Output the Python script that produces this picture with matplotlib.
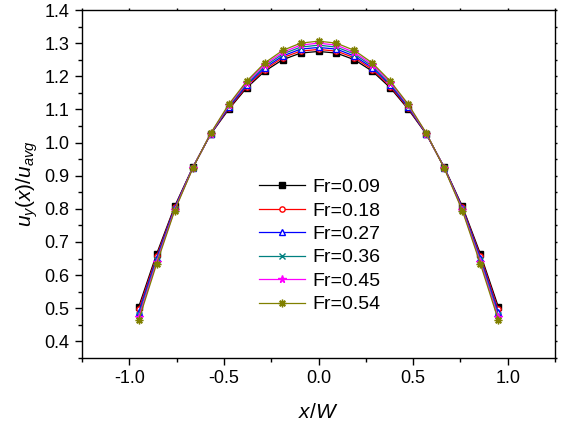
"""Velocity profile u_y(x)/u_avg across the channel for several Froude numbers."""

from matplotlib import pyplot as plt
from matplotlib.ticker import MultipleLocator

plt.rcParams["font.family"] = ["Liberation Sans", "DejaVu Sans"]
plt.rcParams["mathtext.fontset"] = "custom"
plt.rcParams["mathtext.rm"] = "Liberation Sans"
plt.rcParams["mathtext.it"] = "Liberation Sans:italic"

x_w = [-0.95, -0.855, -0.76, -0.665, -0.57, -0.475, -0.38, -0.285, -0.19, -0.095, 0.0,
       0.095, 0.19, 0.285, 0.38, 0.475, 0.57, 0.665, 0.76, 0.855, 0.95]

fr_labels = ["Fr=0.09", "Fr=0.18", "Fr=0.27", "Fr=0.36", "Fr=0.45", "Fr=0.54"]

u_fr009 = [0.505, 0.665, 0.808, 0.925, 1.025, 1.100, 1.165, 1.215, 1.250, 1.270, 1.275,
           1.270, 1.250, 1.215, 1.165, 1.100, 1.025, 0.925, 0.808, 0.665, 0.505]
u_fr018 = [0.497, 0.659, 0.805, 0.924, 1.026, 1.103, 1.169, 1.220, 1.256, 1.276, 1.281,
           1.276, 1.256, 1.220, 1.169, 1.103, 1.026, 0.924, 0.805, 0.659, 0.497]
u_fr027 = [0.489, 0.653, 0.803, 0.924, 1.026, 1.106, 1.173, 1.225, 1.261, 1.282, 1.287,
           1.282, 1.261, 1.225, 1.173, 1.106, 1.026, 0.924, 0.803, 0.653, 0.489]
u_fr036 = [0.481, 0.647, 0.800, 0.923, 1.027, 1.109, 1.177, 1.230, 1.267, 1.288, 1.294,
           1.288, 1.267, 1.230, 1.177, 1.109, 1.027, 0.923, 0.800, 0.647, 0.481]
u_fr045 = [0.473, 0.641, 0.798, 0.923, 1.027, 1.112, 1.181, 1.235, 1.272, 1.294, 1.300,
           1.294, 1.272, 1.235, 1.181, 1.112, 1.027, 0.923, 0.798, 0.641, 0.473]
u_fr054 = [0.465, 0.635, 0.795, 0.922, 1.028, 1.115, 1.185, 1.240, 1.278, 1.300, 1.306,
           1.300, 1.278, 1.240, 1.185, 1.115, 1.028, 0.922, 0.795, 0.635, 0.465]

series = [u_fr009, u_fr018, u_fr027, u_fr036, u_fr045, u_fr054]

styles = [
    {"color": "black", "marker": "s", "mfc": "black", "ms": 3.8},
    {"color": "red", "marker": "o", "mfc": "white", "ms": 3.8},
    {"color": "blue", "marker": "^", "mfc": "white", "ms": 4.2},
    {"color": "#008080", "marker": "x", "mfc": "none", "ms": 3.8},
    {"color": "magenta", "marker": "*", "mfc": "magenta", "ms": 5.5},
    {"color": "#808000", "marker": (8, 2, 0), "mfc": "none", "ms": 5.5},
]

fig = plt.figure(figsize=(5.63, 4.24), dpi=100)
ax = fig.add_axes([0.1457, 0.1557, 0.8401, 0.8207])

for values, label, st in zip(series, fr_labels, styles):
    ax.plot(x_w, values, color=st["color"], linewidth=0.9, marker=st["marker"],
            markersize=st["ms"], markerfacecolor=st["mfc"], markeredgecolor=st["color"],
            markeredgewidth=1.0, label=label)

ax.set_xlim(-1.25, 1.25)
ax.set_ylim(0.35, 1.4)
ax.xaxis.set_major_locator(MultipleLocator(0.5))
ax.xaxis.set_minor_locator(MultipleLocator(0.25))
ax.yaxis.set_major_locator(MultipleLocator(0.1))
ax.yaxis.set_minor_locator(MultipleLocator(0.05))
ax.xaxis.set_major_formatter(lambda v, p: f"{v:.1f}")
ax.yaxis.set_major_formatter(lambda v, p: f"{v:.1f}")

ax.tick_params(which="major", direction="out", length=5, width=1.0, labelsize=13,
               top=True, right=True, pad=4)
ax.tick_params(which="minor", direction="out", length=3, width=1.0, top=True, right=True)
for tick in ax.xaxis.get_major_ticks() + ax.xaxis.get_minor_ticks():
    tick.tick2line.set_markersize(1.5)
for tick in ax.yaxis.get_major_ticks() + ax.yaxis.get_minor_ticks():
    tick.tick2line.set_markersize(1.5)

for spine in ax.spines.values():
    spine.set_linewidth(1.0)

ax.set_xlabel("$x/W$", fontsize=15, labelpad=11)
ax.set_ylabel("$u_y(x)/u_{avg}$", fontsize=15, labelpad=3)

ax.legend(loc="center", bbox_to_anchor=(0.502, 0.322), frameon=False, fontsize=14,
          handlelength=2.4, handletextpad=0.35, labelspacing=0.3)

fig.savefig("out.png", dpi=100)
